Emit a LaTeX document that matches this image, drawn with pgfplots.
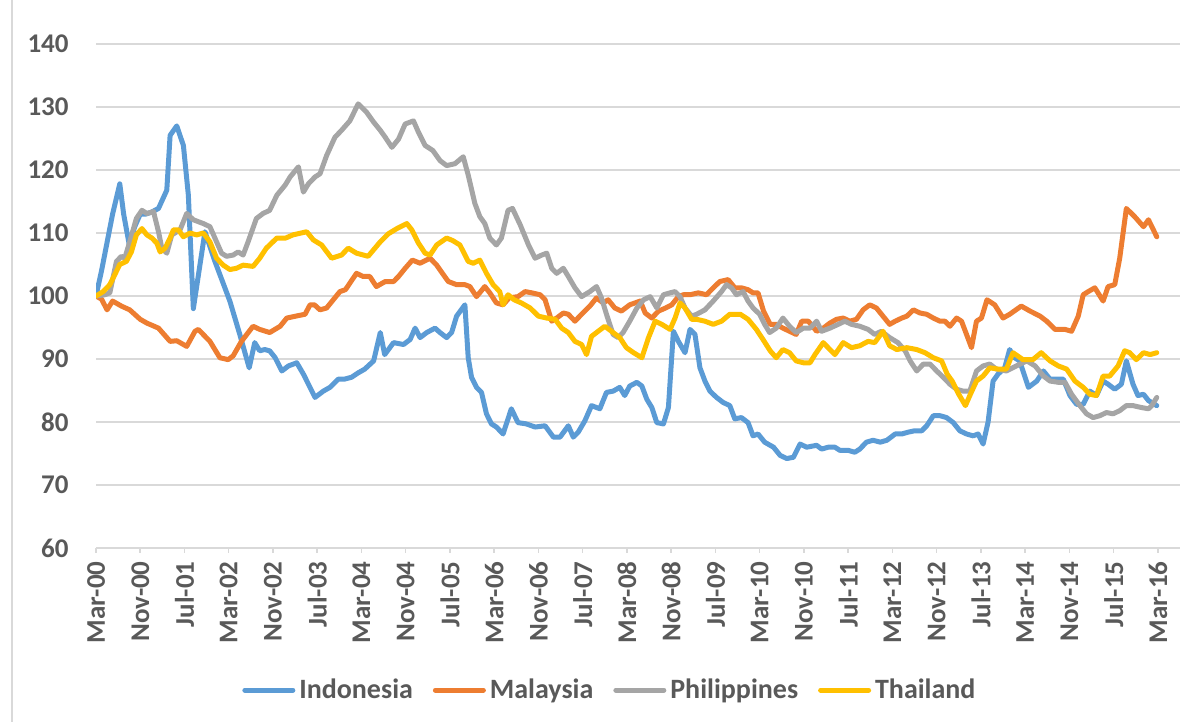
\documentclass[border=0pt]{standalone}
\usepackage{fontspec}
\setmainfont{Carlito}
\usepackage{pgfplots}
\pgfplotsset{compat=1.18}
\definecolor{cIdn}{HTML}{5B9BD5}
\definecolor{cMys}{HTML}{ED7D31}
\definecolor{cPhl}{HTML}{A5A5A5}
\definecolor{cTha}{HTML}{FFC000}
\definecolor{gridgray}{HTML}{D9D9D9}
\definecolor{txtgray}{HTML}{595959}
\begin{document}
\begin{tikzpicture}
\useasboundingbox (0,0) rectangle (600pt,361pt);
\draw[gridgray, line width=0.6pt] (6pt,0pt) -- (6pt,361pt);
\begin{axis}[
  at={(48pt,87pt)}, anchor=south west,
  scale only axis, width=542pt, height=252pt,
  xmin=0, xmax=196, ymin=60, ymax=140,
  ytick={60,70,...,140},
  xtick={0,8,...,192},
  xticklabels={Mar-00,Nov-00,Jul-01,Mar-02,Nov-02,Jul-03,Mar-04,Nov-04,Jul-05,Mar-06,Nov-06,Jul-07,Mar-08,Nov-08,Jul-09,Mar-10,Nov-10,Jul-11,Mar-12,Nov-12,Jul-13,Mar-14,Nov-14,Jul-15,Mar-16},
  axis x line*=bottom, axis y line*=left,
  x axis line style={-, color=gridgray, line width=0.75pt},
  y axis line style={draw=none},
  ymajorgrids, grid style={gridgray, line width=0.75pt},
  tick align=outside, major tick length=2.5pt,
  xtick style={gridgray, line width=0.75pt},
  ytick style={draw=none},
  /pgf/number format/assume math mode=true,
  tick label style={font=\fontsize{13.5}{16}\selectfont\bfseries, text=txtgray},
  xticklabel style={rotate=90, anchor=east, inner sep=0pt},
  xticklabel shift=4pt,
  yticklabel style={anchor=east, inner sep=0pt, xshift=-11pt},
  legend style={at={(0.475,-0.282)}, anchor=center, draw=none, fill=none,
    legend columns=4, font=\fontsize{14}{16}\selectfont\bfseries, text=txtgray,
    /tikz/every even column/.append style={column sep=8pt},
    /tikz/every odd column/.append style={column sep=0pt}},
  legend image code/.code={\draw[#1] (0pt,0pt) -- (24pt,0pt);},
  every axis plot/.append style={line width=2.5pt, line join=round, line cap=round},
]
\addplot[cIdn] coordinates {
(0,100) (1,104) (2,108.5) (3,113) (4.3,117.8) (5,113) (6,108.2) (7,111) (8,113) (9,113) (10,113.3) (11.3,113.9) (12.8,116.8) (13.4,125.5) (14.6,127) (15.8,123.9) (16.7,116) (17.6,98) (19.7,110.2) (21.5,105.5) (24.2,99.2) (26,93.9) (27.7,88.6) (28.7,92.6) (29.6,91.3) (30.5,91.5) (31.4,91.3)
(32.4,90.2) (33.6,88.1) (34.8,88.9) (36.3,89.4) (37.5,87.6) (39.6,83.9) (41.1,84.9) (42.3,85.5) (43.8,86.8) (44.9,86.8) (46.2,87.1) (47.4,87.8) (48.6,88.4) (50.2,89.7) (51.4,94.2) (52.2,90.7) (53.8,92.6) (55.6,92.3) (56.8,93.1) (57.7,94.9) (58.6,93.4) (59.8,94.2) (61.3,94.9) (62.2,94.2) (63.4,93.4) (64.3,94.2)
(65.2,96.8) (66.7,98.6) (67.3,90.2) (67.9,87.1) (68.8,85.5) (69.7,84.7) (70.6,81.3) (71.5,79.7) (72.4,79.2) (73.6,78.1) (75.1,82.1) (76.3,79.9) (77.8,79.7) (79.4,79.2) (81.2,79.4) (82.7,77.6) (83.9,77.6) (85.4,79.4) (86.3,77.6) (87.2,78.4) (88.4,80.2) (89.6,82.6) (91.1,82.1) (92.3,84.7) (93.5,84.9) (94.7,85.5) (95.6,84.2) (96.5,85.7)
(97.8,86.3) (98.7,85.7) (99.6,83.6) (100.5,82.3) (101.4,79.9) (102.6,79.7) (103.5,82.3) (104.4,94.4) (105.3,92.8) (106.5,91) (107.4,94.7) (108.3,93.9) (109.2,88.6) (110.1,86.5) (111,84.9) (112.2,83.9) (113.4,83.1) (114.6,82.6) (115.5,80.5) (116.7,80.7) (117.9,79.9) (118.8,77.8) (119.7,78.1) (120.9,76.8) (122.5,76) (123.7,74.7) (124.9,74.2) (126.1,74.4) (127.3,76.5) (128.5,76)
(130.3,76.3) (131.2,75.7) (132.4,76) (133.6,76) (134.5,75.5) (136,75.5) (137.2,75.2) (138.1,75.7) (139.3,76.8) (140.5,77.1) (141.8,76.8) (143,77.1) (144.5,78.1) (145.7,78.1) (146.9,78.4) (148,78.6) (149.3,78.6) (150.2,79.4) (151.4,81) (152.6,81) (153.8,80.7) (155,79.9) (156.2,78.6) (157.4,78.1) (158.6,77.8) (159.5,78.1) (160.4,76.5)
(161.3,80) (162.2,86.5) (163.1,87.6) (164.3,88.6) (165.2,91.5) (166.1,90.2) (167,89.7) (168.6,85.5) (170.1,86.5) (171.3,88.1) (172.5,86.8) (173.7,86.8) (174.9,86.8) (176.1,84.2) (177.3,82.8) (178.5,82.8) (179.7,84.9) (180.9,84.2) (182.1,86.5) (183,86) (184.2,85.2) (185.4,86) (186.3,89.7) (187.5,86) (188.4,84.2) (189.4,84.4) (190.3,83.4) (191.8,82.6)
};
\addlegendentry{Indonesia}
\addplot[cMys] coordinates {
(0,100) (1,99.5) (2,97.8) (3,99.2) (4.6,98.4) (6.1,97.8) (8,96.3) (9.2,95.7) (11.3,94.9) (13.4,92.8) (14.6,92.9) (16.4,92) (17.9,94.4) (18.5,94.7) (20.6,92.8) (22.4,90.2) (23.9,89.9) (24.8,90.5) (26.3,92.8) (28.4,95.2) (29.6,94.7) (31.4,94.2)
(33.3,95.2) (34.5,96.5) (36.1,96.8) (37.8,97.1) (38.7,98.6) (39.5,98.6) (40.5,97.8) (41.7,98.1) (42.9,99.4) (44.1,100.7) (45.1,101) (47.1,103.6) (48.3,103.1) (49.5,103.1) (50.7,101.5) (52.3,102.3) (53.8,102.3) (54.7,103.1) (55.9,104.4) (57.2,105.7) (58.6,105.2) (60.4,106) (61.6,104.9) (62.8,103.4) (63.7,102.3)
(65.2,101.8) (66.7,101.8) (67.6,101.5) (68.8,99.9) (70.3,101.5) (71.2,100.5) (72.4,98.9) (73.6,98.6) (74.7,99.7) (76.3,99.9) (77.6,100.7) (78.8,100.5) (80.3,100.2) (81.2,99.4) (82.4,96) (83.3,96.5) (84.5,97.3) (85.4,97.1) (86.6,96) (87.8,97.1) (89.3,98.4) (90.5,99.7) (91.7,98.9) (92.6,99.4) (93.8,98.1) (95,97.6) (96.5,98.6)
(98.4,99.2) (99.3,97.3) (100.5,96.5) (101.7,97.6) (103,98.1) (104.1,98.6) (105.3,99.9) (106.2,100.2) (107.4,100.2) (108.9,100.5) (110.4,100.2) (111.6,101.3) (112.8,102.3) (114.3,102.6) (115.5,101.3) (116.7,101.3) (117.9,101) (118.8,100.5) (119.7,100.5) (120.7,97.6) (121.9,95.5) (123,95.5) (124.2,94.9) (125.4,94.4) (126.6,93.9) (127.6,96) (128.8,96)
(130.3,94.4) (131.5,94.9) (132.7,95.7) (133.9,96.3) (135.1,96.5) (136.3,96) (137.5,96.3) (138.7,97.8) (139.9,98.6) (141.1,98.1) (142.3,96.8) (143.5,95.5) (144.5,96) (145.7,96.5) (146.6,96.8) (147.8,97.8) (149,97.3) (150.2,97.1) (151.4,96.5) (152.6,96) (153.5,96) (154.4,95.2) (155.6,96.5) (156.5,96) (157.4,93.9) (158.3,91.8) (159.2,96) (160.1,96.5) (161.1,99.4)
(162.5,98.6) (164,96.5) (165.2,97.1) (167.3,98.4) (168.9,97.6) (170.7,96.8) (171.9,96) (173.4,94.7) (175.2,94.7) (176.4,94.4) (177.6,96.8) (178.5,100.2) (179.4,100.7) (180.6,101.3) (182.1,99.2) (183,101.5) (184.2,101.8) (185.1,106) (186.3,113.9) (187.8,112.6) (189.4,111) (190.3,112.1) (191.8,109.4)
};
\addlegendentry{Malaysia}
\addplot[cPhl] coordinates {
(0,100) (1.6,100.2) (2.5,100.5) (3.7,105.5) (4.6,106.3) (5.2,106) (6.1,108.6) (7.3,112.3) (8.3,113.6) (9.2,113.1) (10.4,113.4) (11.3,110.2) (11.9,107.6) (12.8,106.8) (13.7,109.7) (15.2,110.5) (16.4,113.1) (17.6,112.1) (19.4,111.5) (20.6,111) (21.5,109.2) (22.7,106.8) (23.6,106.3) (24.8,106.5) (25.7,107) (26.6,106.5) (27.5,108.6) (29,112.3) (30.2,113.1) (31.4,113.6)
(32.7,116) (34.2,117.6) (35.1,118.9) (36.6,120.5) (37.5,116.5) (38.4,117.8) (39.6,118.9) (40.5,119.4) (41.7,122.3) (43.2,125.2) (44.4,126.3) (45.9,127.8) (47.4,130.5) (48.9,129.2) (50.2,127.6) (51.4,126.3) (52.3,125.2) (53.5,123.6) (54.7,124.9) (55.9,127.3) (57.4,127.8) (58.3,126) (59.5,123.9) (60.9,123.1) (62.2,121.5) (63.4,120.7)
(64.9,121) (66.4,122.1) (67.3,119.2) (68.5,114.7) (69.4,112.6) (70.3,111.5) (71.2,109.2) (72.4,108.1) (73.3,109.2) (74.5,113.6) (75.3,113.9) (76.7,111.3) (78.2,108.1) (79.4,106) (80.6,106.5) (81.5,106.8) (82.4,104.4) (83.3,103.6) (84.5,104.4) (85.4,103.1) (86.6,101.3) (87.8,99.9) (89.3,100.7) (90.5,101.5) (91.4,99.7) (92.3,97.1) (93.5,93.9) (94.4,93.4) (95.3,94.2) (96.5,96)
(97.8,98.1) (99,99.4) (100.2,99.9) (101.4,98.1) (102.6,100.2) (103.8,100.5) (104.7,100.7) (105.6,99.9) (106.5,98.1) (107.7,96.8) (108.6,97.1) (110.1,97.8) (111.6,99.2) (113.1,100.7) (114,101.8) (114.9,101.3) (115.8,100.2) (117,100.7) (117.9,99.2) (118.8,98.1) (120,97.1) (120.9,95.5) (121.8,94.2) (123,94.9) (124.2,96.5) (125.4,95.2) (126.6,94.2) (127.9,94.9) (129.1,94.9)
(130.3,96) (131.2,94.4) (132.7,94.9) (134.2,95.5) (135.4,96) (136.6,95.5) (138.1,95.2) (139.6,94.7) (140.8,93.9) (142,94.4) (143.5,93.4) (145,92.6) (146.3,91.3) (147.2,89.7) (148.4,88.1) (149.6,89.2) (150.8,89.2) (152,88.1) (153.2,87.1) (154.4,86) (155.6,85.2) (156.8,84.9) (158,84.9) (159.2,88.1) (160.4,88.9) (161.6,89.2)
(162.8,88.4) (164.6,88.1) (166.4,88.9) (168.3,89.7) (169.8,88.9) (171.3,87.3) (172.5,86.5) (174,86.3) (175.2,86.3) (176.4,84.4) (177.9,82.6) (179.1,81.3) (180.3,80.7) (181.5,81) (182.7,81.5) (183.9,81.3) (185.1,81.8) (186.3,82.6) (187.5,82.6) (189,82.3) (190.3,82.1) (190.9,82.6) (191.8,83.9)
};
\addlegendentry{Philippines}
\addplot[cTha] coordinates {
(0,100) (1.3,100.7) (2.5,101.8) (3.4,103.4) (4.3,105) (5.5,105.5) (6.4,107) (7.3,109.7) (8.3,110.7) (9.2,109.7) (10.1,109.2) (11,108.4) (11.6,107) (12.5,107.6) (13.4,109.2) (14,110.5) (14.9,110.5) (15.8,109.4) (17,110) (18.2,109.7) (19.4,110) (20.6,108.6) (21.8,106) (23,104.9) (24.2,104.2) (25.4,104.4) (26.6,104.9) (28.4,104.7) (29.6,106) (30.8,107.6)
(32.7,109.2) (34.3,109.2) (35.6,109.7) (38.1,110.2) (39.3,108.9) (40.8,108.1) (42.6,106) (44.4,106.5) (45.6,107.6) (47.1,106.8) (49.2,106.3) (51.4,108.6) (52.9,109.9) (54.4,110.7) (56.2,111.5) (57.1,110.5) (58.3,108.4) (59.5,106.8) (60.4,106.5) (61.6,108.1) (63.4,109.2)
(64.5,108.8) (65.8,108.1) (67.3,105.5) (68.2,105.2) (69.4,105.7) (70.6,103.6) (71.8,101.8) (73,100.7) (73.6,98.6) (74.5,100.2) (75.6,99.4) (76.9,98.9) (78.5,98.1) (80,96.8) (81.5,96.5) (83,96.3) (84.2,94.9) (85.4,94.2) (86.6,92.8) (87.8,92.3) (88.7,90.7) (89.6,93.6) (90.8,94.4) (92,95.2) (93.2,94.4) (94.7,93.4) (95.9,91.8)
(97.2,91) (98.7,90.2) (99.9,93.4) (101.1,96) (102.3,95.5) (103.8,94.7) (104.7,96.5) (105.6,98.9) (106.5,98.1) (107.7,96.3) (108.6,96.3) (110.1,96) (111.6,95.5) (113.1,96) (114.6,97.1) (116.5,97.1) (117.9,96.3) (119.4,94.7) (120.6,93.1) (121.9,91.3) (123,90.2) (124.2,91.5) (125.4,91) (126.6,89.7) (127.9,89.4) (129.1,89.4)
(130,90.7) (131.5,92.6) (132.7,91.5) (133.6,90.7) (135.1,92.6) (136.6,91.8) (138.1,92.1) (139.6,92.8) (140.8,92.6) (142.3,94.4) (143.5,92.1) (144.8,91.5) (146.6,91.8) (148.4,91.5) (149.9,91) (151.4,90.2) (152.9,89.7) (153.9,87.6) (154.8,86.5) (156,84.4) (157.2,82.6) (158.1,84.4) (159.2,86.5) (160.4,87.3) (161.6,88.6)
(163.1,88.4) (164.6,88.4) (165.8,91) (167.6,89.9) (169.4,89.9) (170.9,91) (172.5,89.7) (174,88.9) (175.5,88.4) (177,86.5) (178.5,85.5) (179.7,84.4) (180.9,84.2) (182.1,87.3) (183.3,87.3) (184.8,88.9) (186,91.3) (186.9,91) (188.1,89.9) (189.4,91) (190.6,90.7) (191.8,91)
};
\addlegendentry{Thailand}
\end{axis}
\end{tikzpicture}
\end{document}
